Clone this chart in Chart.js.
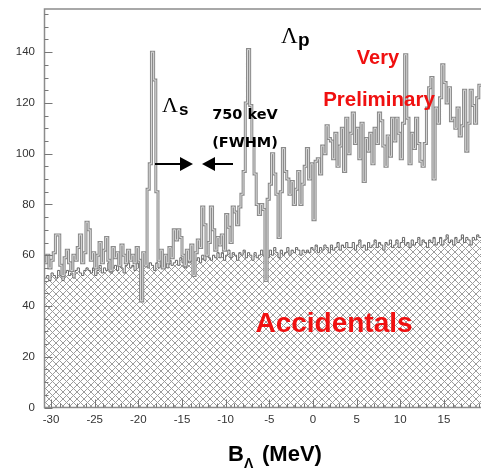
<!DOCTYPE html>
<html>
<head>
<meta charset="utf-8">
<script src="https://cdn.jsdelivr.net/npm/chart.js@4.4.1/dist/chart.umd.min.js"></script>
<style>
html, body { margin: 0; padding: 0; background: #fff; overflow: hidden; }
</style>
</head>
<body>
<canvas id="grafico" width="481" height="473"></canvas>
<script>
// bines de 0.25 MeV, el primero empieza en -30.75 MeV
const binInicio = -30.75;
const binAncho = 0.25;

const senal = [
    57, 60, 55, 58, 61, 68, 68, 56, 52, 59, 62, 57, 54, 60, 58, 63, 68, 57, 61, 73,
    70, 58, 61, 55, 60, 65, 57, 62, 67, 58, 54, 63, 59, 61, 56, 64, 60, 57, 62, 58,
    60, 57, 63, 58, 42, 61, 56, 86, 96, 140, 129, 85, 58, 62, 55, 60, 57, 63, 59, 70,
    66, 70, 67, 60, 56, 62, 58, 64, 52, 61, 66, 63, 79, 72, 60, 65, 79, 70, 62, 67,
    64, 68, 62, 76, 71, 65, 79, 77, 72, 79, 84, 93, 120, 141, 119, 105, 92, 80, 76, 80,
    78, 50, 82, 88, 100, 92, 84, 67, 85, 102, 93, 90, 84, 89, 80, 86, 93, 80, 88, 95,
    102, 90, 96, 74, 97, 98, 92, 103, 100, 111, 106, 105, 98, 108, 95, 103, 110, 93, 114, 100,
    108, 116, 104, 110, 98, 112, 89, 106, 101, 108, 96, 110, 104, 116, 113, 103, 95, 107, 99, 114,
    105, 114, 108, 98, 112, 139, 114, 96, 108, 102, 114, 104, 97, 95, 104, 118, 126, 130, 90, 118,
    112, 122, 135, 128, 120, 126, 113, 114, 110, 118, 107, 111, 125, 101, 112, 125, 119, 112, 122, 127
];

const accidentales = [
    51, 52, 50, 53, 52, 51, 54, 52, 50, 53, 54, 52, 53, 51, 54, 55, 53, 52, 54, 55,
    54, 53, 55, 52, 54, 56, 53, 55, 54, 57, 53, 55, 56, 54, 57, 55, 53, 56, 57, 55,
    56, 54, 57, 55, 53, 56, 58, 55, 57, 56, 54, 57, 55, 58, 56, 57, 55, 58, 56, 57,
    58, 56, 59, 57, 55, 58, 57, 60, 56, 58, 59, 57, 60, 58, 61, 59, 58, 60, 59, 61,
    59, 61, 58, 60, 62, 59, 61, 60, 58, 61, 60, 62, 59, 61, 60, 58, 61, 59, 60, 62,
    60, 61, 59, 62, 60, 63, 61, 59, 62, 60, 61, 63, 60, 62, 61, 63, 62, 60, 62, 61,
    62, 61, 63, 62, 64, 61, 63, 62, 64, 63, 61, 64, 62, 63, 65, 62, 64, 63, 65, 63,
    63, 65, 62, 64, 66, 63, 64, 62, 65, 63, 64, 66, 63, 65, 64, 62, 65, 64, 66, 63,
    64, 66, 63, 65, 67, 64, 65, 63, 66, 64, 65, 67, 64, 66, 65, 63, 66, 65, 67, 64,
    65, 67, 64, 66, 68, 65, 66, 64, 67, 65, 66, 68, 65, 67, 66, 64, 67, 66, 68, 67
];

const ticksX = [-30, -25, -20, -15, -10, -5, 0, 5, 10, 15];
const ticksY = [0, 20, 40, 60, 80, 100, 120, 140];

function aPuntos(valores) {
    let puntos = valores.map((v, i) => ({ x: binInicio + i * binAncho, y: v }));
    puntos.push({ x: binInicio + valores.length * binAncho, y: valores[valores.length - 1] });
    return puntos;
}

function crearTrama(ctx) {
    let t = document.createElement("canvas");
    t.width = 7;
    t.height = 7;
    let c = t.getContext("2d");
    c.fillStyle = "#fff";
    c.fillRect(0, 0, 7, 7);
    c.strokeStyle = "#9c9c9c";
    c.lineWidth = 1;
    c.beginPath();
    c.moveTo(-1, -1); c.lineTo(8, 8);
    c.moveTo(8, -1); c.lineTo(-1, 8);
    c.stroke();
    return ctx.createPattern(t, "repeat");
}

// marco y marcas hacia adentro, estilo ROOT
const marco = {
    id: "marco",
    afterDatasetsDraw(chart) {
        const c = chart.ctx;
        const a = chart.chartArea;
        const sx = chart.scales.x;
        const sy = chart.scales.y;
        c.save();
        c.strokeStyle = "#8c8c8c";
        c.lineWidth = 1.5;
        c.beginPath();
        c.moveTo(a.right + 2, a.top);
        c.lineTo(a.left, a.top);
        c.lineTo(a.left, a.bottom);
        c.lineTo(a.right + 2, a.bottom);
        c.stroke();
        c.lineWidth = 1;
        c.strokeStyle = "#777";
        c.beginPath();
        for (let v = -30; v <= 19; v++) {
            let px = Math.round(sx.getPixelForValue(v)) + 0.5;
            let largo = v % 5 === 0 ? 8 : 4;
            c.moveTo(px, a.bottom);
            c.lineTo(px, a.bottom - largo);
        }
        for (let v = 0; v <= 155; v += 5) {
            let py = Math.round(sy.getPixelForValue(v)) + 0.5;
            let largo = v % 20 === 0 ? 8 : 4;
            c.moveTo(a.left, py);
            c.lineTo(a.left + largo, py);
        }
        c.stroke();
        c.restore();
    }
};

const textos = {
    id: "textos",
    afterDraw(chart) {
        const c = chart.ctx;
        c.save();
        c.fillStyle = "#000";
        c.textAlign = "left";
        c.textBaseline = "alphabetic";

        c.font = "22px 'Liberation Serif', serif";
        c.fillText("\u039B", 162, 112);
        c.font = "bold 17px 'Liberation Sans', Arial, sans-serif";
        c.fillText("s", 179, 115);

        c.font = "23px 'Liberation Serif', serif";
        c.fillText("\u039B", 281, 43);
        c.font = "bold 19px 'Liberation Sans', Arial, sans-serif";
        c.fillText("p", 298, 46);

        c.textAlign = "center";
        c.font = "bold 14.5px 'DejaVu Sans', sans-serif";
        c.fillText("750 keV", 245, 119);
        c.fillText("(FWHM)", 245, 147);

        // flechas
        c.strokeStyle = "#000";
        c.lineWidth = 2.2;
        c.beginPath();
        c.moveTo(155, 164); c.lineTo(182, 164);
        c.moveTo(213, 164); c.lineTo(233, 164);
        c.stroke();
        c.beginPath();
        c.moveTo(180, 157); c.lineTo(193, 164); c.lineTo(180, 171); c.closePath();
        c.moveTo(215, 157); c.lineTo(202, 164); c.lineTo(215, 171); c.closePath();
        c.fill();

        c.fillStyle = "#f01010";
        c.font = "bold 20px 'Liberation Sans', Arial, sans-serif";
        c.fillText("Very", 378, 64);
        c.font = "bold 20.5px 'Liberation Sans', Arial, sans-serif";
        c.fillText("Preliminary", 379, 106);
        c.font = "bold 28px 'Liberation Sans', Arial, sans-serif";
        c.fillText("Accidentals", 334, 332);

        c.fillStyle = "#000";
        c.textAlign = "left";
        c.font = "bold 22px 'Liberation Sans', Arial, sans-serif";
        c.fillText("B", 228, 461);
        c.fillText("(MeV)", 262, 461);
        c.font = "bold 14px 'Liberation Sans', Arial, sans-serif";
        c.fillText("\u039B", 244, 468);
        c.restore();
    }
};

const ctx = document.getElementById("grafico").getContext("2d");
const fuenteTicks = { family: "'Liberation Sans', Arial, sans-serif", size: 11.5 };

new Chart(ctx, {
    type: "line",
    data: {
        datasets: [
            {
                data: aPuntos(senal),
                borderColor: "#dadada",
                borderWidth: 1,
                stepped: true,
                fill: false,
                order: 1
            },
            {
                data: aPuntos(senal),
                borderColor: "#8a8a8a",
                borderWidth: 3,
                stepped: true,
                fill: false,
                order: 2
            },
            {
                data: aPuntos(accidentales),
                borderColor: "#666",
                borderWidth: 1,
                backgroundColor: crearTrama(ctx),
                fill: "origin",
                stepped: true,
                order: 3
            }
        ]
    },
    options: {
        responsive: false,
        animation: false,
        events: [],
        layout: { padding: { top: 9, right: 0, left: 0, bottom: 0 } },
        elements: { point: { radius: 0 }, line: { tension: 0 } },
        plugins: {
            legend: { display: false },
            tooltip: { enabled: false }
        },
        scales: {
            x: {
                type: "linear",
                min: -30.75,
                max: 19.25,
                grid: { display: false, drawTicks: false },
                border: { display: false },
                afterBuildTicks: (s) => { s.ticks = ticksX.map((v) => ({ value: v })); },
                afterFit: (s) => {
                    s.height = 65.5;
                    s.paddingLeft = 0;
                    s.paddingRight = 0;
                },
                ticks: { font: fuenteTicks, color: "#333", padding: 5, maxRotation: 0, autoSkip: false }
            },
            y: {
                min: 0,
                max: 157,
                grid: { display: false, drawTicks: false },
                border: { display: false },
                afterBuildTicks: (s) => { s.ticks = ticksY.map((v) => ({ value: v })); },
                afterFit: (s) => {
                    s.width = 44.5;
                    s.paddingTop = 0;
                    s.paddingBottom = 0;
                },
                ticks: { font: fuenteTicks, color: "#333", padding: 9.5, autoSkip: false }
            }
        }
    },
    plugins: [marco, textos]
});
</script>
</body>
</html>
